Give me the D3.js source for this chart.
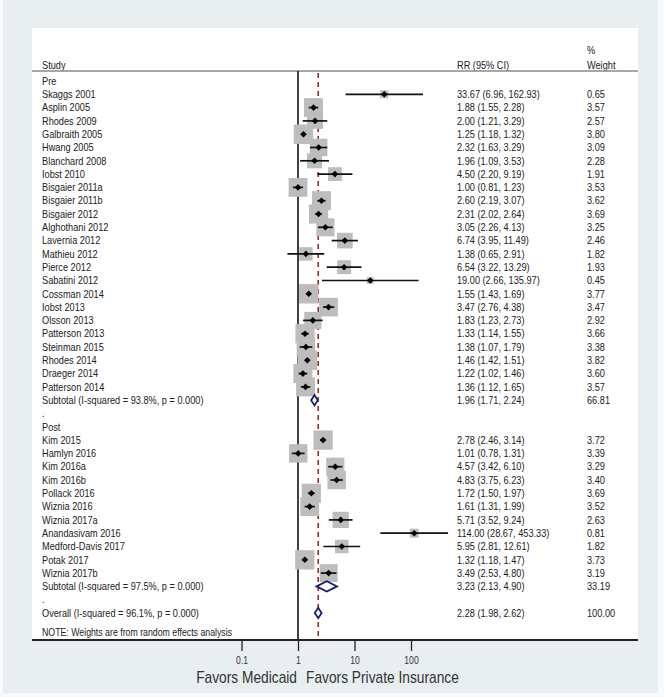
<!DOCTYPE html>
<html>
<head>
<meta charset="utf-8">
<script src="https://cdn.jsdelivr.net/npm/d3@7"></script>
<style>
  html, body { margin: 0; padding: 0; background: #f7f9fa; }
  svg { display: block; }
  text { font-family: "Liberation Sans", Arial, sans-serif; }
</style>
</head>
<body>
<svg id="chart" width="664" height="697"></svg>
<script>
// ---- data ----
const preStudies = ["Skaggs 2001","Asplin 2005","Rhodes 2009","Galbraith 2005","Hwang 2005","Blanchard 2008","Iobst 2010","Bisgaier 2011a","Bisgaier 2011b","Bisgaier 2012","Alghothani 2012","Lavernia 2012","Mathieu 2012","Pierce 2012","Sabatini 2012","Cossman 2014","Iobst 2013","Olsson 2013","Patterson 2013","Steinman 2015","Rhodes 2014","Draeger 2014","Patterson 2014"];
const preRR   = [33.67,1.88,2.00,1.25,2.32,1.96,4.50,1.00,2.60,2.31,3.05,6.74,1.38,6.54,19.00,1.55,3.47,1.83,1.33,1.38,1.46,1.22,1.36];
const preLo   = [6.96,1.55,1.21,1.18,1.63,1.09,2.20,0.81,2.19,2.02,2.26,3.95,0.65,3.22,2.66,1.43,2.76,1.23,1.14,1.07,1.42,1.02,1.12];
const preHi   = [162.93,2.28,3.29,1.32,3.29,3.53,9.19,1.23,3.07,2.64,4.13,11.49,2.91,13.29,135.97,1.69,4.38,2.73,1.55,1.79,1.51,1.46,1.65];
const preWeight = [0.65,3.57,2.57,3.80,3.09,2.28,1.91,3.53,3.62,3.69,3.25,2.46,1.82,1.93,0.45,3.77,3.47,2.92,3.66,3.38,3.82,3.60,3.57];

const postStudies = ["Kim 2015","Hamlyn 2016","Kim 2016a","Kim 2016b","Pollack 2016","Wiznia 2016","Wiznia 2017a","Anandasivam 2016","Medford-Davis 2017","Potak 2017","Wiznia 2017b"];
const postRR   = [2.78,1.01,4.57,4.83,1.72,1.61,5.71,114.00,5.95,1.32,3.49];
const postLo   = [2.46,0.78,3.42,3.75,1.50,1.31,3.52,28.67,2.81,1.18,2.53];
const postHi   = [3.14,1.31,6.10,6.23,1.97,1.99,9.24,453.33,12.61,1.47,4.80];
const postWeight = [3.72,3.39,3.29,3.40,3.69,3.52,2.63,0.81,1.82,3.73,3.19];

const pooledLabels = ["Subtotal  (I-squared = 93.8%, p = 0.000)","Subtotal  (I-squared = 97.5%, p = 0.000)","Overall  (I-squared = 96.1%, p = 0.000)"];
const pooledRR = [1.96,3.23,2.28];
const pooledLo = [1.71,2.13,1.98];
const pooledHi = [2.24,4.90,2.62];
const pooledWeight = ["66.81","33.19","100.00"];

const tickValues = [0.1,1,10,100];
const tickLabels = ["0.1","1","10","100"];

// ---- build row list ----
const fmt = d3.format(".2f");
const rows = [];
rows.push({type:"group", label:"Pre"});
preStudies.forEach((s,i)=>rows.push({type:"study", label:s, rr:preRR[i], lo:preLo[i], hi:preHi[i], w:preWeight[i]}));
rows.push({type:"pooled", label:pooledLabels[0], rr:pooledRR[0], lo:pooledLo[0], hi:pooledHi[0], w:pooledWeight[0]});
rows.push({type:"dot", label:"."});
rows.push({type:"group", label:"Post"});
postStudies.forEach((s,i)=>rows.push({type:"study", label:s, rr:postRR[i], lo:postLo[i], hi:postHi[i], w:postWeight[i]}));
rows.push({type:"pooled", label:pooledLabels[1], rr:pooledRR[1], lo:pooledLo[1], hi:pooledHi[1], w:pooledWeight[1]});
rows.push({type:"dot", label:"."});
rows.push({type:"pooled", label:pooledLabels[2], rr:pooledRR[2], lo:pooledLo[2], hi:pooledHi[2], w:pooledWeight[2]});
rows.forEach((r,i)=>r.i=i);

const svg = d3.select("#chart");
const SX = 0.86; // horizontal squeeze of the original picture's text
function addText(parent, x, y, str, size, anchor, color) {
  return parent.append("text")
    .attr("transform", `translate(${x},${y}) scale(${SX},1)`)
    .attr("dy","0.35em").attr("font-size", size)
    .attr("text-anchor", anchor || "start")
    .attr("fill", color || "#222").text(str);
}

// backgrounds
svg.append("rect").attr("x",3).attr("y",0).attr("width",655).attr("height",693).attr("fill","#e9eff1");
const panelL = 32, panelR = 638, panelT = 28, axisY = 640;
svg.append("rect").attr("x",panelL).attr("y",panelT).attr("width",panelR-panelL).attr("height",axisY-panelT).attr("fill","#ffffff");

// scales
const x = d3.scaleLog().domain([0.1,100]).range([241.5,411]);
const y = d3.scaleLinear().domain([0, rows.length-1]).range([81, 81 + (rows.length-1)*13.3]);

const FS = 10.7;
const colStudy = 42, colRR = 457, colW = 587;

// header
addText(svg, colStudy, 65, "Study", FS);
addText(svg, colRR, 65, "RR (95% CI)", FS);
addText(svg, colW, 50, "%", FS);
addText(svg, colW, 65, "Weight", FS);
svg.append("line").attr("x1",panelL).attr("x2",panelR).attr("y1",71).attr("y2",71).attr("stroke","#8a8a8a").attr("stroke-width",1.5);

// reference lines
svg.append("line").attr("x1",x(1)).attr("x2",x(1)).attr("y1",71).attr("y2",axisY).attr("stroke","#111").attr("stroke-width",1.6);
svg.append("line").attr("x1",x(pooledRR[2])).attr("x2",x(pooledRR[2])).attr("y1",73).attr("y2",axisY-3)
  .attr("stroke","#a0282a").attr("stroke-width",1.6).attr("stroke-dasharray","5,4");

// labels
const g = svg.append("g");
rows.forEach(r=>{
  const yy = y(r.i);
  addText(g, colStudy, yy, r.label, FS);
  if (r.type==="study" || r.type==="pooled") {
    addText(g, colRR, yy, `${fmt(r.rr)} (${fmt(r.lo)}, ${fmt(r.hi)})`, FS);
    addText(g, colW, yy, typeof r.w === "number" ? fmt(r.w) : r.w, FS);
  }
});
addText(svg, colStudy, 632, "NOTE: Weights are from random effects analysis", 10.2);

// study boxes
const studies = rows.filter(r=>r.type==="study");
const side = w => 10 * Math.sqrt(w);
g.selectAll("rect.box").data(studies).join("rect").attr("class","box")
  .attr("x",d=>x(d.rr)-side(d.w)/2).attr("y",d=>y(d.i)-side(d.w)/2)
  .attr("width",d=>side(d.w)).attr("height",d=>side(d.w)).attr("fill","#bdbdbd");
g.selectAll("line.ci").data(studies).join("line").attr("class","ci")
  .attr("x1",d=>x(d.lo)).attr("x2",d=>x(d.hi)).attr("y1",d=>y(d.i)).attr("y2",d=>y(d.i))
  .attr("stroke","#111").attr("stroke-width",1.7);
g.selectAll("path.pt").data(studies).join("path").attr("class","pt")
  .attr("transform",d=>`translate(${x(d.rr)},${y(d.i)})`)
  .attr("d","M0,-3.3 L3.3,0 L0,3.3 L-3.3,0 Z").attr("fill","#000");

// pooled diamonds
const pooled = rows.filter(r=>r.type==="pooled");
g.selectAll("path.dia").data(pooled).join("path").attr("class","dia")
  .attr("d",d=>{
    const yy=y(d.i), h = 5.2;
    return `M${x(d.lo)},${yy} L${x(d.rr)},${yy-h} L${x(d.hi)},${yy} L${x(d.rr)},${yy+h} Z`;
  })
  .attr("fill","#fff").attr("stroke","#1b1b70").attr("stroke-width",1.8);

// axis
svg.append("line").attr("x1",panelL).attr("x2",panelR).attr("y1",axisY).attr("y2",axisY).attr("stroke","#222").attr("stroke-width",2);
const axis = d3.axisBottom(x).tickValues(tickValues).tickFormat((d,i)=>tickLabels[i]).tickSize(11).tickPadding(6);
const ag = svg.append("g").attr("transform",`translate(0,${axisY})`).call(axis);
ag.select(".domain").remove();
ag.selectAll(".tick line").attr("stroke","#222").attr("stroke-width",1.3);
ag.selectAll(".tick text").attr("font-size",10).attr("fill","#333")
  .attr("font-family","Liberation Sans, Arial, sans-serif").attr("transform",`scale(${SX},1)`);

addText(svg, x(1)-1, 677, "Favors Medicaid", 16, "end", "#333");
addText(svg, x(1)+8, 677, "Favors Private Insurance", 16, "start", "#333");
</script>
</body>
</html>
